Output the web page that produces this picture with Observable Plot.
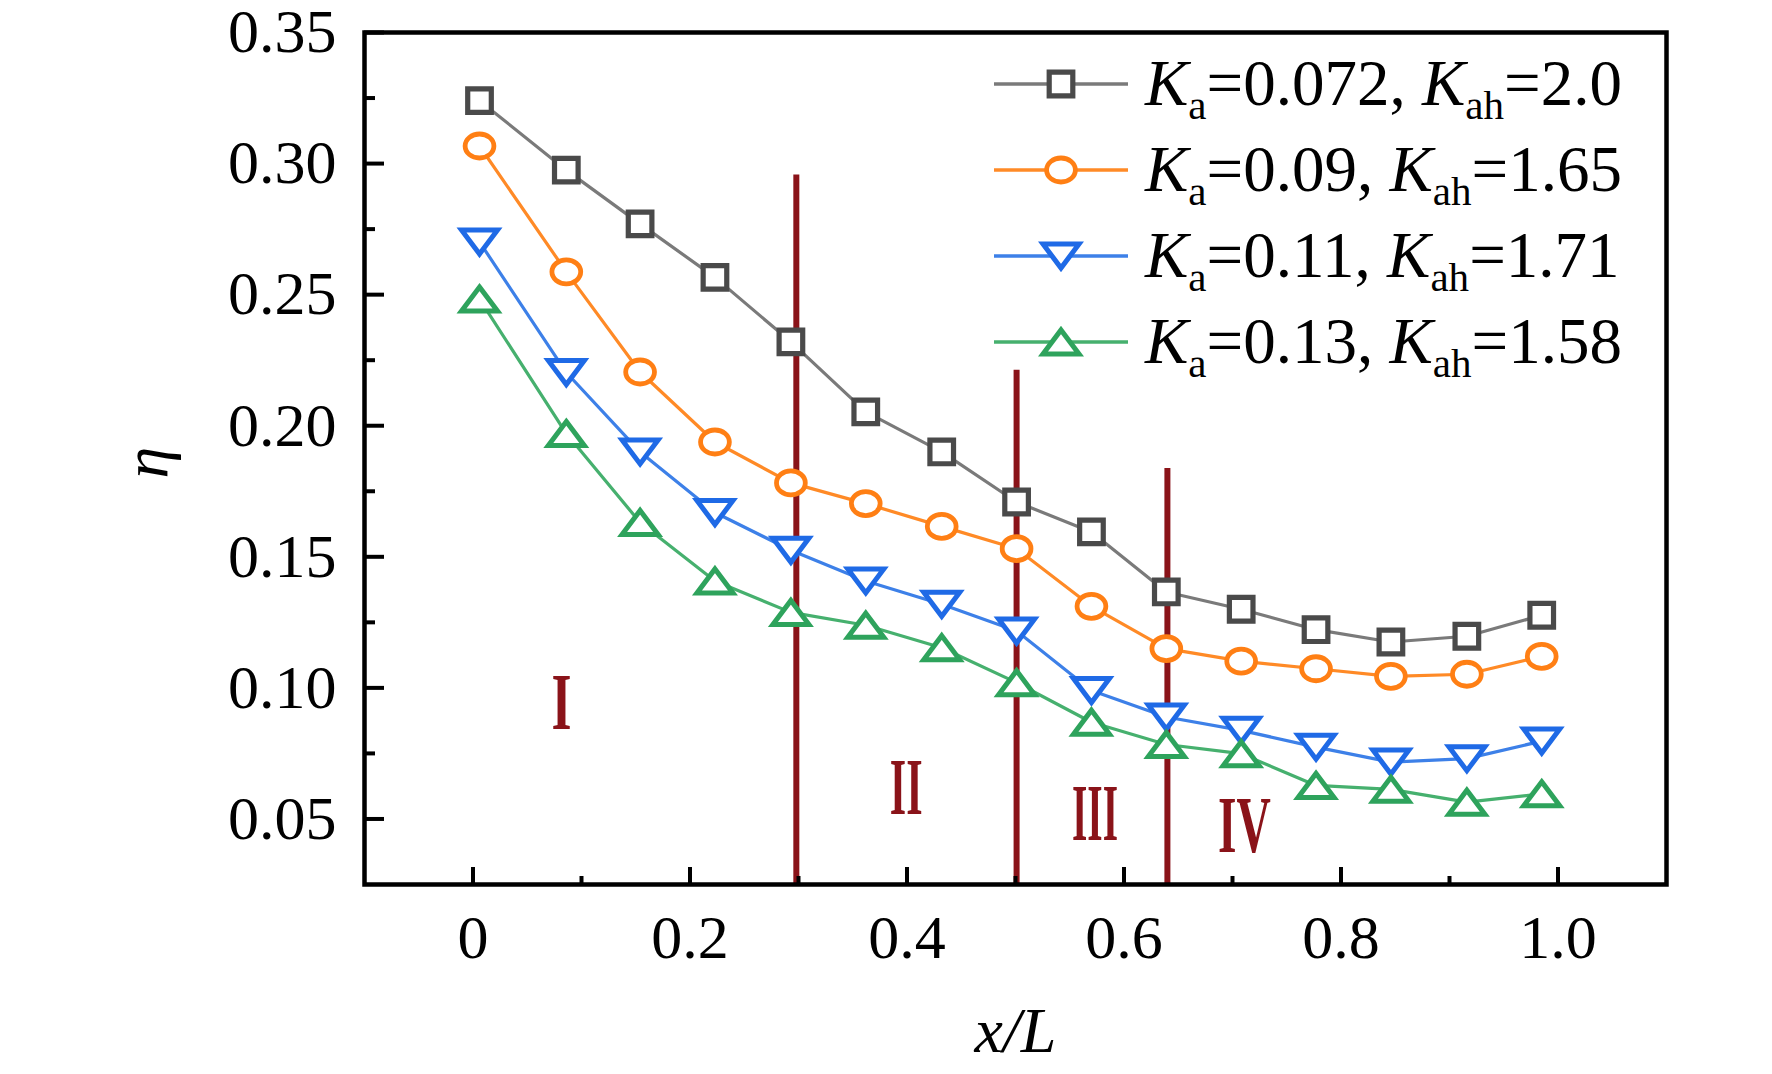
<!DOCTYPE html>
<html><head><meta charset="utf-8">
<script src="https://cdn.jsdelivr.net/npm/d3@7"></script>
<script src="https://cdn.jsdelivr.net/npm/@observablehq/plot@0.6"></script>
<style>html,body{margin:0;padding:0;background:#fff;}</style>
</head><body><div id="chart"></div>
<script>
// ---- data ----
const xPos = [0.006, 0.086, 0.154, 0.223, 0.293, 0.362, 0.432, 0.501, 0.570, 0.639, 0.708, 0.777, 0.846, 0.916, 0.985];
const etaGray   = [0.324, 0.2975, 0.277, 0.2566, 0.232, 0.2053, 0.190, 0.1709, 0.1595, 0.1366, 0.130, 0.1222, 0.1175, 0.1197, 0.1277];
const etaOrange = [0.3067, 0.2587, 0.2205, 0.1938, 0.1782, 0.1703, 0.1616, 0.1531, 0.1311, 0.115, 0.1102, 0.1073, 0.1044, 0.1052, 0.112];
const etaBlue   = [0.2701, 0.2203, 0.190, 0.1669, 0.1525, 0.1408, 0.1319, 0.1217, 0.099, 0.0889, 0.0838, 0.0774, 0.0717, 0.073, 0.0797];
const etaGreen  = [0.2483, 0.197, 0.1631, 0.1408, 0.1288, 0.1239, 0.1153, 0.102, 0.0869, 0.0784, 0.0749, 0.0628, 0.0613, 0.0564, 0.0596];
const kaValues  = ["0.072", "0.09", "0.11", "0.13"];
const kahValues = ["2.0", "1.65", "1.71", "1.58"];
const seriesIds = ["s1", "s2", "s3", "s4"];
const lineColors   = ["#7a7a7a", "#ff8a26", "#3d80e8", "#46b06e"];
const markerColors = ["#4a4a4a", "#ff7f14", "#1f6ae6", "#2ea35c"];

const xDomain = [-0.1, 1.1];
const yDomain = [0.025, 0.35];
const xTicksMajor = [0, 0.2, 0.4, 0.6, 0.8, 1.0];
const xTickLabels = ["0", "0.2", "0.4", "0.6", "0.8", "1.0"];
const xTicksMinor = [0.1, 0.3, 0.5, 0.7, 0.9];
const yTicksMajor = [0.05, 0.10, 0.15, 0.20, 0.25, 0.30, 0.35];
const yTickLabels = ["0.05", "0.10", "0.15", "0.20", "0.25", "0.30", "0.35"];
const yTicksMinor = [0.075, 0.125, 0.175, 0.225, 0.275, 0.325];

const boundaryX   = [0.298, 0.501, 0.640];
const boundaryTop = [0.2956, 0.2212, 0.1837];
const regionText  = ["I", "II", "III", "IV"];
const regionX     = [0.0816, 0.3993, 0.5733, 0.7109];
const regionY     = [0.0940, 0.0616, 0.0516, 0.0471];

// ---- styles ----
const RED = "#8a1319";
const FONT = "'Liberation Serif', 'Times New Roman', serif";
const regionWidthEm = [0.25, 0.41, 0.575, 0.66]; // compressed glyph widths (em)
const regionFontSize = 80;

// ---- tables built from the arrays ----
const allSeries = [etaGray, etaOrange, etaBlue, etaGreen];
const rows = [];
allSeries.forEach((vals, s) => vals.forEach((v, i) => rows.push({series: seriesIds[s], x: xPos[i], y: v})));
const boundaries = boundaryX.map((x, i) => ({x, top: boundaryTop[i], bottom: yDomain[0]}));
const regions = regionText.map((t, i) => ({t, x: regionX[i], y: regionY[i]}));

// ---- custom hollow symbols ----
const rOf = size => Math.sqrt(size / Math.PI);
const symSquare = {draw(c, size) { const r = rOf(size); c.moveTo(-r, -r); c.lineTo(r, -r); c.lineTo(r, r); c.lineTo(-r, r); c.closePath(); }};
const symEllipse = {draw(c, size) {
  const ry = rOf(size), rx = ry * 1.2, k = 0.5523;
  c.moveTo(rx, 0);
  c.bezierCurveTo(rx, ry * k, rx * k, ry, 0, ry);
  c.bezierCurveTo(-rx * k, ry, -rx, ry * k, -rx, 0);
  c.bezierCurveTo(-rx, -ry * k, -rx * k, -ry, 0, -ry);
  c.bezierCurveTo(rx * k, -ry, rx, -ry * k, rx, 0);
  c.closePath();
}};
const symTriDown = {draw(c, size) { const r = rOf(size), w = r * 1.5; c.moveTo(-w, -r); c.lineTo(w, -r); c.lineTo(0, r); c.closePath(); }};
const symTriUp = {draw(c, size) { const r = rOf(size), w = r * 1.5; c.moveTo(0, -r); c.lineTo(w, r); c.lineTo(-w, r); c.closePath(); }};
const symbols = [symSquare, symEllipse, symTriDown, symTriUp];
const symR = [11.8, 12, 12, 12];
const symSW = [5.2, 4.8, 5, 5];

const W = 1772, H = 1074;
const chart = Plot.plot({
  width: W, height: H,
  marginLeft: 364, marginRight: 106, marginTop: 32, marginBottom: 190,
  style: {fontFamily: FONT, background: "#fff", color: "#000", overflow: "visible"},
  x: {domain: xDomain},
  y: {domain: yDomain},
  color: {domain: seriesIds, range: lineColors},
  marks: [
    Plot.ruleX(boundaries, {x: "x", y1: "bottom", y2: "top", stroke: RED, strokeWidth: 6}),
    Plot.line(rows, {x: "x", y: "y", z: "series", stroke: "series", strokeWidth: 3.2}),
    ...seriesIds.map((id, s) => Plot.dot(rows.filter(d => d.series === id), {
      x: "x", y: "y", symbol: symbols[s], r: symR[s], stroke: markerColors[s], strokeWidth: symSW[s], fill: "#fff"
    })),
    Plot.text(regions, {x: "x", y: "y", text: "t", fill: RED, fontSize: regionFontSize, fontWeight: "bold", fontFamily: FONT, lineAnchor: "middle"}),
    Plot.axisX(xTicksMajor, {tickSize: 17, dy: -17, strokeWidth: 4, tickFormat: () => "", label: null}),
    Plot.axisX(xTicksMinor, {tickSize: 8, dy: -8, strokeWidth: 4, tickFormat: () => "", label: null}),
    Plot.axisY(yTicksMajor, {tickSize: 20, dx: 20, strokeWidth: 4, tickFormat: () => "", label: null}),
    Plot.axisY(yTicksMinor, {tickSize: 11, dx: 11, strokeWidth: 4, tickFormat: () => "", label: null}),
    Plot.axisX(xTicksMajor, {tickSize: 0, tickPadding: 29, fontSize: 62, tickFormat: d => xTickLabels[xTicksMajor.indexOf(d)], label: null}),
    Plot.axisY(yTicksMajor, {tickSize: 0, tickPadding: 28, fontSize: 62, tickFormat: d => yTickLabels[yTicksMajor.indexOf(d)], label: null}),
    Plot.text(["x/L"], {frameAnchor: "bottom", dy: 147, text: d => d, fontStyle: "italic", fontSize: 64, lineAnchor: "middle"}),
    Plot.text(["η"], {frameAnchor: "left", dx: -218, dy: 20, text: d => d, fontStyle: "italic", fontSize: 64, rotate: -90, lineAnchor: "middle"}),
    Plot.frame({stroke: "#000", strokeWidth: 4.5})
  ]
});

const svg = d3.select(chart);

// compress the region numerals horizontally (Times-style narrow roman numerals)
svg.selectAll("text").filter(function() { return regionText.includes(this.textContent); })
  .each(function() {
    const i = regionText.indexOf(this.textContent);
    d3.select(this).attr("textLength", regionWidthEm[i] * regionFontSize).attr("lengthAdjust", "spacingAndGlyphs");
  });

// ---- legend (inside the plot, top right) ----
const lg = svg.append("g").attr("font-family", FONT).attr("text-anchor", "start");
const legX1 = 994, legX2 = 1128, legXm = 1061, legTextX = 1145, legBase0 = 105, legStep = 86;
seriesIds.forEach((id, s) => {
  const base = legBase0 + s * legStep, ly = base - 21;
  lg.append("line").attr("x1", legX1).attr("x2", legX2).attr("y1", ly).attr("y2", ly)
    .attr("stroke", lineColors[s]).attr("stroke-width", 3.5);
  lg.append("path").attr("transform", `translate(${legXm},${ly})`)
    .attr("d", d3.symbol(symbols[s], Math.PI * symR[s] * symR[s])())
    .attr("fill", "#fff").attr("stroke", markerColors[s]).attr("stroke-width", symSW[s]);
  const t = lg.append("text").attr("x", legTextX).attr("y", base).attr("font-size", 65).attr("fill", "#000").attr("text-anchor", "start");
  t.append("tspan").attr("font-style", "italic").text("K");
  t.append("tspan").attr("font-size", 41).attr("dy", 14).text("a");
  t.append("tspan").attr("dy", -14).text("=" + kaValues[s] + ", ");
  t.append("tspan").attr("font-style", "italic").text("K");
  t.append("tspan").attr("font-size", 41).attr("dy", 14).text("ah");
  t.append("tspan").attr("dy", -14).text("=" + kahValues[s]);
});

document.getElementById("chart").appendChild(chart);
</script>
</body></html>
